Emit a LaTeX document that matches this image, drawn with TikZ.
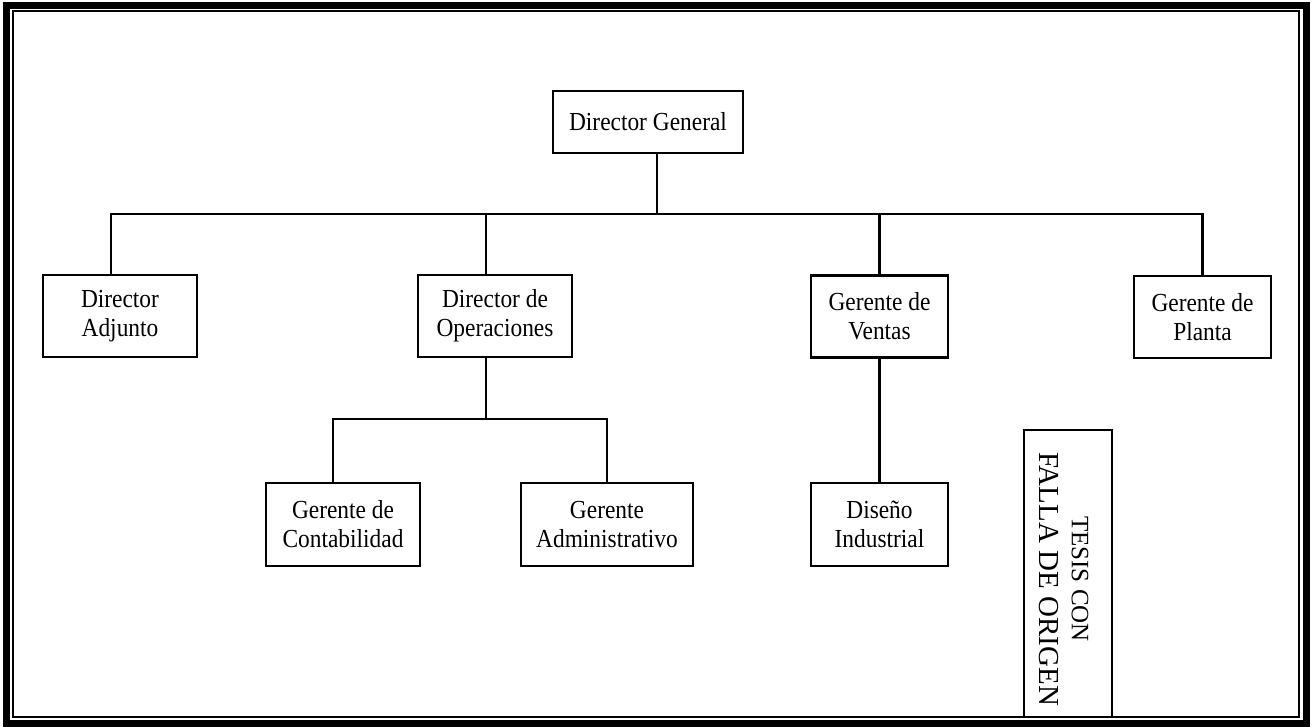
\documentclass[tikz,border=0pt]{standalone}
\usepackage{fontspec}
\setmainfont{Liberation Serif}[FakeStretch=0.9]
\newfontfamily\stampfont{Liberation Serif}
\begin{document}
\begin{tikzpicture}[x=0.5pt,y=-0.5pt,
  orgbox/.style={draw,line width=1.05pt,rectangle,inner sep=0pt,align=center,
    font=\fontsize{13}{14.5}\selectfont},
  link/.style={line width=1.05pt}]
  \useasboundingbox (0,0) rectangle (1314,728);

  % page frame: heavy outer rule and thin inner rule
  \draw[line width=3.5pt] (6.5,5) rectangle (1306.5,723);
  \draw[line width=1.1pt] (13,11) rectangle (1299,717);

  % boxes
  \node[orgbox,minimum width=95pt,minimum height=31pt] (dg) at (648,122) {Director General};
  \node[orgbox,minimum width=77pt,minimum height=41pt] (adj) at (120,316) {Director\\Adjunto};
  \node[orgbox,minimum width=77pt,minimum height=41pt] (ope) at (495,316) {Director de\\Operaciones};
  \node[orgbox,minimum width=68.5pt,minimum height=41pt] (ven) at (879.5,316.5) {Gerente de\\Ventas};
  \node[orgbox,minimum width=68.5pt,minimum height=41pt] (pla) at (1202.5,317) {Gerente de\\Planta};
  \node[orgbox,minimum width=77pt,minimum height=41.5pt] (con) at (343,524.5) {Gerente de\\Contabilidad};
  \node[orgbox,minimum width=86pt,minimum height=41.5pt] (adm) at (607,524.5) {Gerente\\Administrativo};
  \node[orgbox,minimum width=68.5pt,minimum height=41.5pt] (dis) at (879.5,524.5) {Diseño\\Industrial};

  % bus rails
  \coordinate (bus) at (657,214);
  \coordinate (subbus) at (486,419);

  % top level
  \draw[link] ([xshift=4.5pt]dg.south) -- (bus);
  \draw[link] ([xshift=-4.5pt]adj.north) |- (bus) -| (pla.north);
  \draw[link] ([xshift=-4.5pt]ope.north) -- ([xshift=-4.5pt]ope.north |- bus);
  \draw[link] (ven.north) -- (ven.north |- bus);

  % operations branch
  \draw[link] ([xshift=-4.5pt]ope.south) -- (subbus);
  \draw[link] ([xshift=-5pt]con.north) |- (subbus) -| (adm.north);

  % sales branch
  \draw[link] (ven.south) -- (dis.north);

  % stamp
  \node[draw,line width=1.1pt,rectangle,minimum width=44pt,minimum height=143.5pt,inner sep=0pt]
    (stamp) at (1068,573.5) {};
  \node[rotate=-90,align=center,inner sep=0pt,font=\stampfont] (stamptext) at (1064,579)
    {{\fontsize{12.5}{14}\selectfont TESIS CON}\\[4pt]{\fontsize{14.5}{16}\selectfont FALLA DE ORIGEN}};
\end{tikzpicture}
\end{document}
